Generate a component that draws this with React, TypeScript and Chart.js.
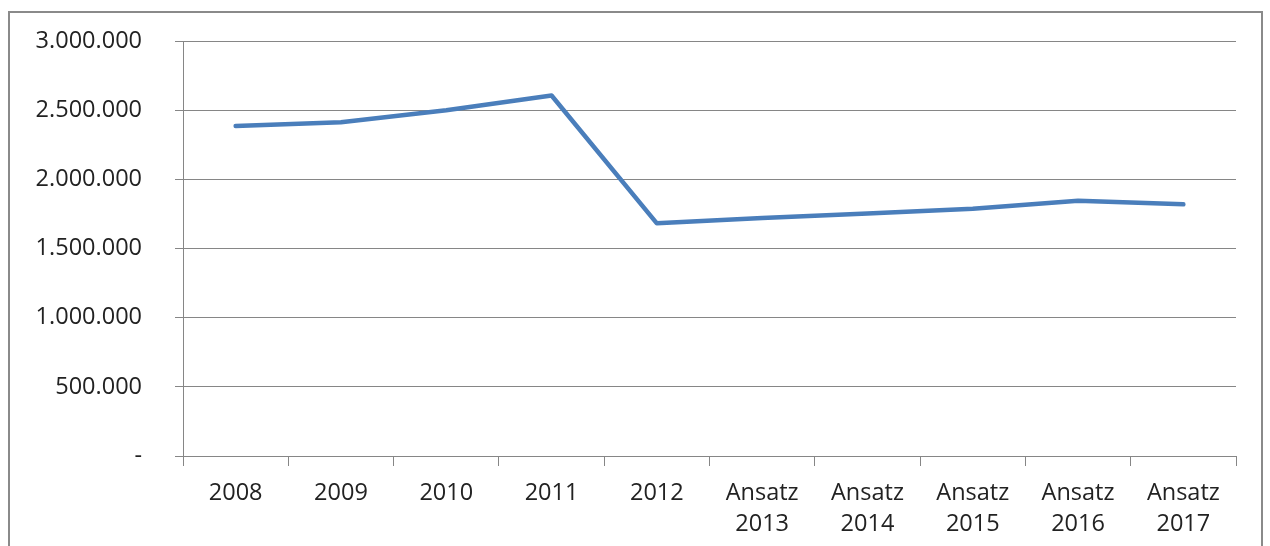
import React, { useEffect, useRef } from "react";
import { Chart, registerables } from "chart.js";

Chart.register(...registerables);

const categories: (string | string[])[] = [
  "2008",
  "2009",
  "2010",
  "2011",
  "2012",
  ["Ansatz", "2013"],
  ["Ansatz", "2014"],
  ["Ansatz", "2015"],
  ["Ansatz", "2016"],
  ["Ansatz", "2017"],
];
const values = [2386000, 2412000, 2500000, 2606000, 1682000, 1720000, 1753000, 1788000, 1846000, 1819000];
const yTickLabels = ["-", "500.000", "1.000.000", "1.500.000", "2.000.000", "2.500.000", "3.000.000"];
const yStep = 500000;
const yMax = 3000000;

const FONT = { family: "'Open Sans', sans-serif", size: 23.5, lineHeight: 1.3 };
const GRID = "#868686";
const TEXT = "#222222";

export default function App() {
  const ref = useRef<HTMLCanvasElement>(null);
  useEffect(() => {
    if (!ref.current) return;
    const chart = new Chart(ref.current, {
      type: "line",
      data: {
        labels: categories,
        datasets: [
          {
            data: values,
            borderColor: "#4A7EBB",
            borderWidth: 4.5,
            pointRadius: 0,
            tension: 0,
            borderCapStyle: "round",
            borderJoinStyle: "round",
            fill: false,
          },
        ],
      },
      options: {
        responsive: false,
        animation: false,
        layout: { padding: { top: 41, right: 34, left: 0, bottom: 0 } },
        plugins: { legend: { display: false }, tooltip: { enabled: false } },
        scales: {
          x: {
            type: "category",
            offset: true,
            grid: {
              offset: true,
              drawOnChartArea: false,
              drawTicks: true,
              tickLength: 10,
              color: GRID,
            },
            border: { color: GRID, width: 1 },
            ticks: {
              autoSkip: false,
              maxRotation: 0,
              padding: 12,
              color: TEXT,
              font: FONT,
            },
            afterFit: (s: any) => {
              s.height = 90;
            },
          },
          y: {
            min: 0,
            max: yMax,
            grid: { color: GRID, tickLength: 8, lineWidth: 1 },
            border: { color: GRID, width: 1 },
            ticks: {
              stepSize: yStep,
              padding: 33,
              color: TEXT,
              font: FONT,
              callback: (v: any) => yTickLabels[Math.round(Number(v) / yStep)],
            },
            afterFit: (s: any) => {
              s.width = 183;
              s.paddingTop = 0;
              s.paddingBottom = 0;
            },
          },
        },
      },
    });
    return () => chart.destroy();
  }, []);
  return (
    <>
      <div
        style={{
          position: "absolute",
          left: 8,
          top: 11,
          width: 1255,
          height: 535,
          border: "2px solid #8a8a8a",
          borderBottom: "none",
          boxSizing: "border-box",
        }}
      />
      <canvas
        ref={ref}
        width={1270}
        height={546}
        style={{ position: "absolute", left: 0, top: 0 }}
      />
    </>
  );
}
